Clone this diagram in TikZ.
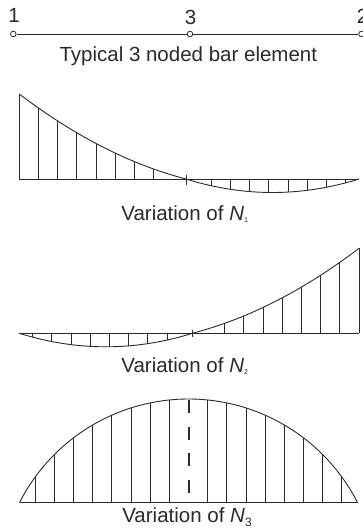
\documentclass[tikz,border=0pt]{standalone}
\usepackage{fontspec}
\setmainfont{Liberation Sans}
\definecolor{ink}{HTML}{2A2A2A}
\newcommand\subsmall[1]{\raisebox{-2.5pt}{\fontsize{7}{7}\selectfont #1}}
\newcommand\subbig[1]{\raisebox{-3.5pt}{\fontsize{12}{12}\selectfont #1}}
\begin{document}
\begin{tikzpicture}[x=1pt,y=-1pt,
  ink/.style={draw=ink, line width=0.9pt},
  lbl/.style={font=\fontsize{20.5}{24}\selectfont, text=ink, inner sep=0, anchor=base},
  nodept/.style={circle, draw=ink, fill=white, line width=0.8pt, inner sep=0, minimum size=5.6pt},
  declare function={
    fa(\x)=(\x<186)?(85*((\x-186)/100)*((\x-359)/100)/5.6628):(-13.5*4*((\x-186)/173)*((359-\x)/173));
    fb(\x)=fa(378.3-\x);
    fc(\x)=100*sqrt(max(0,1.8973*1.8973-((\x-188.5)/100)*((\x-188.5)/100)))-86.23;
  }]
\useasboundingbox (0,0) rectangle (362,529);

% --- bar element ---
\node[nodept] (n1) at (13.3,34) {};
\node[nodept] (n3) at (190,34) {};
\node[nodept] (n2) at (361.5,34) {};
\draw[ink] (n1) -- (n3) -- (n2);
\node[lbl] (l1) at (14,23) {1};
\node[lbl] (l3) at (190.5,25) {3};
\node[lbl] (l2) at (362.5,24) {2};
\node[lbl] (title) at (188.3,61.7) {Typical 3 noded bar element};

% --- N1 ---
\draw[ink] (19.3,179) -- (359,179);
\draw[ink] plot[domain=19.3:359, samples=140] (\x,{179-fa(\x)});
\foreach \k in {0,...,7,10,11,...,17} {
  \pgfmathsetmacro\xx{19.3+19.2*\k}
  \draw[ink] (\xx,179) -- (\xx,{179-fa(\xx)});
}
\draw[ink] (186,175.5) -- (186,185);
\node[lbl] (v1) at (184.7,220) {Variation of \textit{N}\subsmall{1}};

% --- N2 ---
\draw[ink] (19.3,333.3) -- (359,333.3);
\draw[ink] plot[domain=19.3:359, samples=140] (\x,{333.3-fb(\x)});
\foreach \k in {0,...,7,10,11,...,17} {
  \pgfmathsetmacro\xx{359-19.2*\k}
  \draw[ink] (\xx,333.3) -- (\xx,{333.3-fb(\xx)});
}
\draw[ink] (192.3,329.8) -- (192.3,337);
\node[lbl] (v2) at (184.7,372) {Variation of \textit{N}\subsmall{2}};

% --- N3 ---
\draw[ink] (19.5,502.5) -- (357.5,502.5);
\draw[ink] plot[domain=19.5:357.5, samples=160] (\x,{502.5-fc(\x)});
\foreach \k in {1,...,8} {
  \pgfmathsetmacro\xl{188.5-19.15*\k}
  \pgfmathsetmacro\xr{188.5+19.15*\k}
  \draw[ink] (\xl,502.5) -- (\xl,{502.5-fc(\xl)});
  \draw[ink] (\xr,502.5) -- (\xr,{502.5-fc(\xr)});
}
\draw[draw=ink, line width=2pt, dash pattern=on 13pt off 13.5pt] (188.5,400) -- (188.5,502.5);
\node[lbl] (v3) at (187,522.7) {Variation of \textit{N}\subbig{3}};
\end{tikzpicture}
\end{document}
